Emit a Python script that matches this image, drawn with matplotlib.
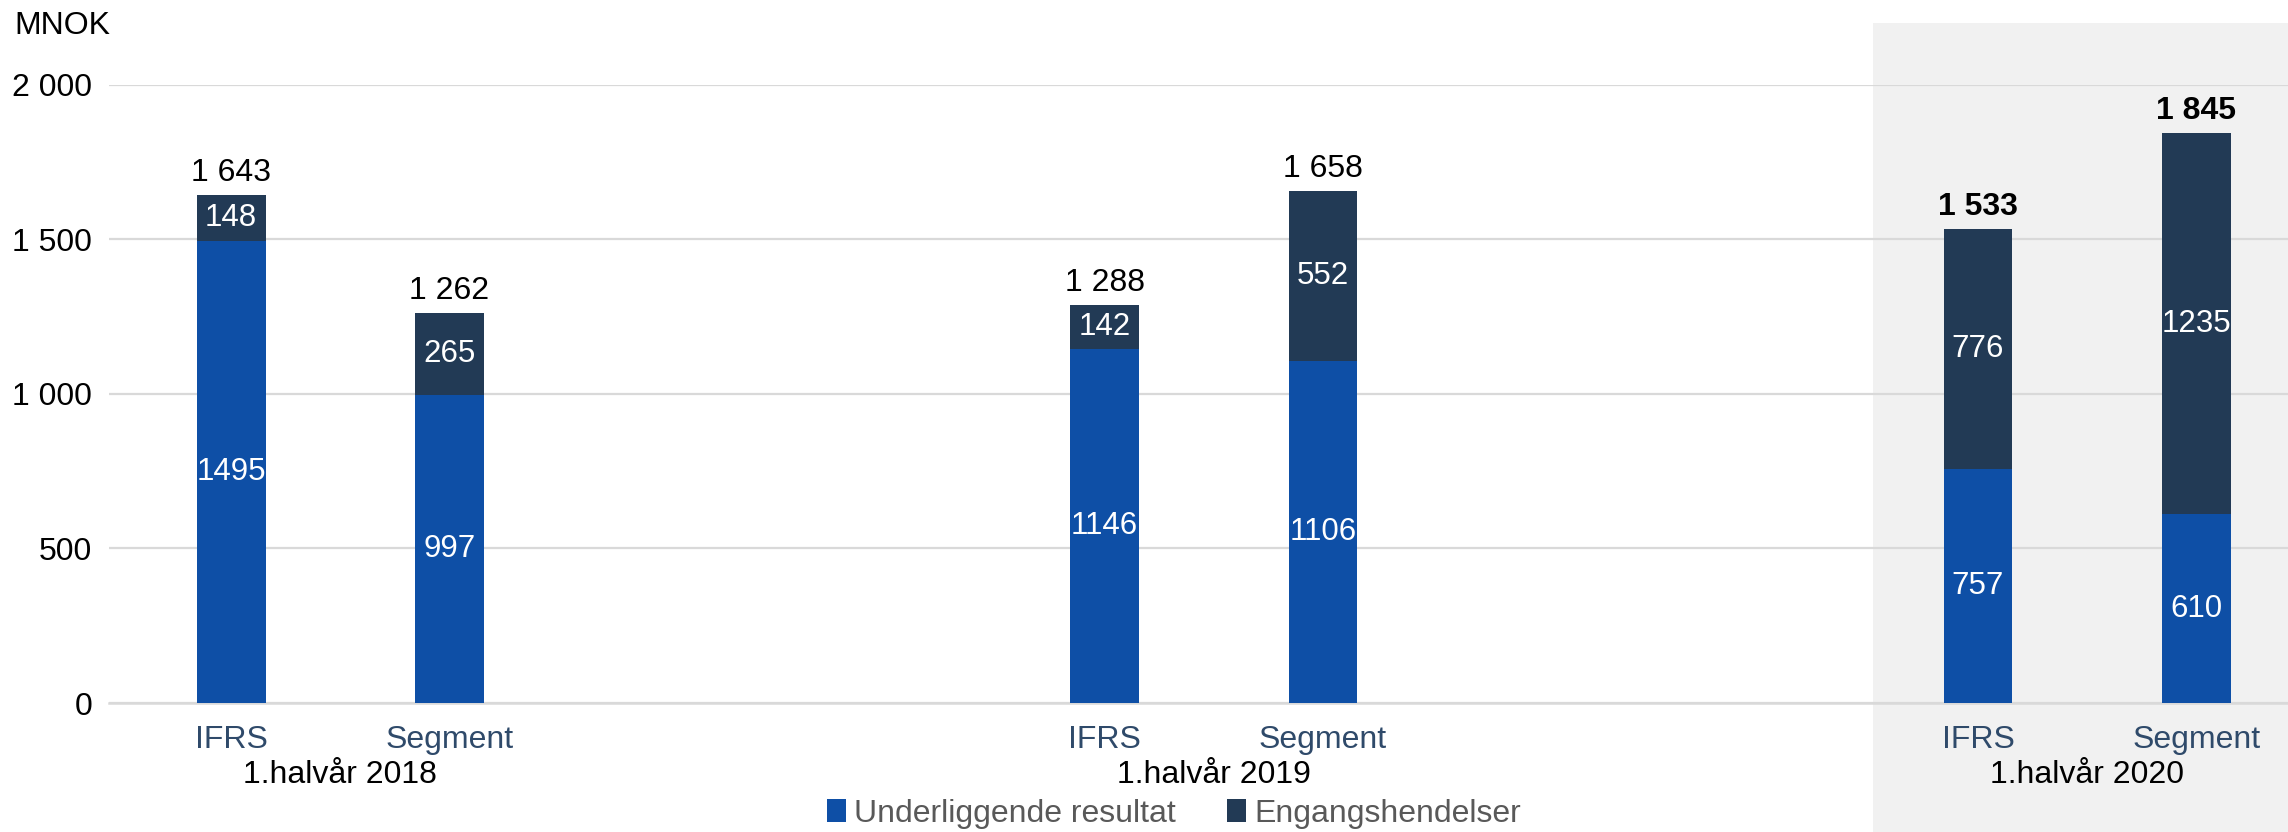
import matplotlib.pyplot as plt
from matplotlib.patches import Rectangle

# ── Data ────────────────────────────────────────────────────
periods = ["1.halvår 2018", "1.halvår 2019", "1.halvår 2020"]
x_pos = [0, 1, 4, 5, 8, 9]
tick_labels = ["IFRS", "Segment", "IFRS", "Segment", "IFRS", "Segment"]
underliggende = [1495, 997, 1146, 1106, 757, 610]
engangs = [148, 265, 142, 552, 776, 1235]
totals = [1643, 1262, 1288, 1658, 1533, 1845]
y_ticks = [0, 500, 1000, 1500, 2000]

COL = {
    "under": "#0E4FA6",
    "eng": "#223A55",
    "grid": "#D9D9D9",
    "tick": "#2F4A6A",
    "legend": "#595959",
    "shade": "#F1F1F1",
}
FS = 23

plt.rcParams.update({
    "font.family": "Liberation Sans",
    "font.size": FS,
})


def fmt_thousands(v):
    return f"{v:,}".replace(",", " ")


fig = plt.figure(figsize=(22.88, 8.32), dpi=100)
fig.patch.set_facecolor("white")

# highlighted latest period
fig.patches.append(Rectangle((0.8185, 0.0), 0.2, 0.972, transform=fig.transFigure,
                             facecolor=COL["shade"], edgecolor="none", zorder=-5))

ax = fig.add_axes([0.0476, 0.155, 0.9524, 0.743])
ax.set_facecolor("none")

w = 0.315
ax.bar(x_pos, underliggende, width=w, color=COL["under"], zorder=3,
       label="Underliggende resultat")
ax.bar(x_pos, engangs, width=w, bottom=underliggende, color=COL["eng"], zorder=3,
       label="Engangshendelser")

for i, x in enumerate(x_pos):
    latest = i >= 4
    ax.text(x, underliggende[i] / 2, str(underliggende[i]), ha="center", va="center",
            color="white", fontsize=FS - 0.5, zorder=4)
    ax.text(x, underliggende[i] + engangs[i] / 2, str(engangs[i]), ha="center",
            va="center", color="white", fontsize=FS - 0.5, zorder=4)
    ax.annotate(fmt_thousands(totals[i]), (x, totals[i]), xytext=(0, 5),
                textcoords="offset points", ha="center", va="bottom",
                fontsize=FS, fontweight="bold" if latest else "normal", color="black")

ax.set_xlim(-0.56, 9.42)
ax.set_ylim(0, 2000)
ax.set_yticks(y_ticks)
ax.set_yticklabels([fmt_thousands(v) for v in y_ticks], fontsize=FS)
ax.yaxis.grid(True, color=COL["grid"], linewidth=1.6, zorder=0)
ax.set_axisbelow(True)
ax.tick_params(axis="y", length=0, pad=12)

ax.set_xticks(x_pos)
ax.set_xticklabels(tick_labels, fontsize=FS, color=COL["tick"])
ax.tick_params(axis="x", length=0, pad=16)

for s in ["top", "right", "left"]:
    ax.spines[s].set_visible(False)
ax.spines["bottom"].set_color(COL["grid"])
ax.spines["bottom"].set_linewidth(1.8)

for k, name in enumerate(periods):
    cx = (x_pos[2 * k] + x_pos[2 * k + 1]) / 2
    ax.text(cx, -0.116, name, transform=ax.get_xaxis_transform(), ha="center",
            va="center", fontsize=FS, color="black")

fig.text(0.0065, 0.969, "MNOK", fontsize=FS, va="center", ha="left")

leg = ax.legend(loc="center", bbox_to_anchor=(0.513, 0.022),
                bbox_transform=fig.transFigure, ncol=2, frameon=False,
                fontsize=FS, handlelength=0.6, handleheight=0.75,
                handletextpad=0.25, columnspacing=1.6)
for t in leg.get_texts():
    t.set_color(COL["legend"])

fig.savefig("out.png", dpi=100, facecolor="white")
